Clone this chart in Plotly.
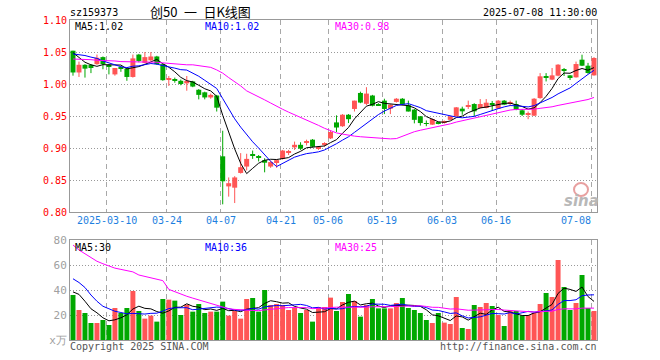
import plotly.graph_objects as go
import pandas as pd

# ---------------- data ----------------
holidays = ["2025-04-04", "2025-05-01", "2025-05-02", "2025-05-05", "2025-06-02"]
dates = [d.strftime("%Y-%m-%d") for d in pd.bdate_range("2025-02-28", "2025-07-08")
         if d.strftime("%Y-%m-%d") not in holidays]

opens = [1.052, 1.018, 1.030, 1.030, 1.031, 1.042, 1.030, 1.015, 1.026, 1.024,
         1.011, 1.046, 1.033, 1.037, 1.043, 1.031, 1.007, 1.0065, 1.005, 1.001,
         1.004, 0.991, 0.987, 0.979, 0.982, 0.887, 0.840, 0.838, 0.861, 0.871,
         0.890, 0.886, 0.881, 0.871, 0.878, 0.883, 0.8925, 0.901, 0.905, 0.908,
         0.913, 0.899, 0.905, 0.915, 0.940, 0.934, 0.952, 0.961, 0.986, 0.969,
         0.982, 0.967, 0.974, 0.9615, 0.972, 0.977, 0.967, 0.960, 0.9495, 0.938,
         0.9365, 0.9395, 0.9398, 0.944, 0.9495, 0.9615, 0.9655, 0.9687, 0.9625, 0.9625,
         0.968, 0.9615, 0.974, 0.970, 0.9687, 0.9589, 0.953, 0.9505, 0.978, 1.0098,
         1.0068, 1.013, 1.021, 1.0135, 1.0104, 1.038, 1.0286, 1.0135]
highs = [1.052, 1.035, 1.031, 1.031, 1.046, 1.043, 1.031, 1.025, 1.027, 1.025,
         1.046, 1.047, 1.050, 1.050, 1.044, 1.032, 1.0125, 1.010, 1.007, 1.0125,
         1.005, 0.992, 0.988, 0.985, 0.983, 0.927, 0.854, 0.856, 0.892, 0.891,
         0.896, 0.889, 0.884, 0.880, 0.882, 0.897, 0.897, 0.910, 0.909, 0.913,
         0.914, 0.902, 0.909, 0.927, 0.951, 0.953, 0.953, 0.974, 0.988, 0.995,
         0.983, 0.970, 0.977, 0.968, 0.978, 0.978, 0.974, 0.961, 0.950, 0.943,
         0.946, 0.941, 0.943, 0.950, 0.964, 0.9646, 0.974, 0.970, 0.9765, 0.9765,
         0.9735, 0.975, 0.975, 0.974, 0.974, 0.961, 0.957, 0.978, 1.017, 1.017,
         1.025, 1.031, 1.025, 1.014, 1.035, 1.0458, 1.033, 1.042]
lows = [1.013, 1.011, 1.010, 1.017, 1.030, 1.023, 1.015, 1.013, 1.019, 1.005,
        1.010, 1.034, 1.032, 1.036, 1.030, 1.005, 0.997, 1.002, 0.998, 0.9895,
        0.995, 0.976, 0.976, 0.977, 0.957, 0.812, 0.824, 0.814, 0.860, 0.865,
        0.883, 0.879, 0.862, 0.869, 0.869, 0.882, 0.889, 0.897, 0.897, 0.904,
        0.901, 0.897, 0.902, 0.914, 0.925, 0.933, 0.939, 0.957, 0.970, 0.967,
        0.965, 0.966, 0.953, 0.953, 0.971, 0.967, 0.957, 0.9385, 0.935, 0.934,
        0.936, 0.937, 0.938, 0.944, 0.949, 0.952, 0.961, 0.9495, 0.962, 0.962,
        0.958, 0.961, 0.967, 0.9655, 0.959, 0.950, 0.945, 0.950, 0.977, 1.004,
        1.006, 1.012, 1.0125, 1.0062, 1.010, 1.028, 1.016, 1.013]
closes = [1.018, 1.030, 1.024, 1.025, 1.041, 1.031, 1.027, 1.025, 1.024, 1.011,
          1.040, 1.036, 1.042, 1.043, 1.031, 1.006, 1.009, 1.006, 1.000, 1.005,
          0.996, 0.983, 0.979, 0.983, 0.963, 0.848, 0.845, 0.854, 0.870, 0.883,
          0.889, 0.885, 0.877, 0.878, 0.881, 0.896, 0.893, 0.905, 0.899, 0.909,
          0.902, 0.900, 0.906, 0.925, 0.932, 0.952, 0.945, 0.974, 0.971, 0.985,
          0.966, 0.966, 0.961, 0.9677, 0.977, 0.968, 0.957, 0.944, 0.939, 0.9375,
          0.9453, 0.939, 0.940, 0.9495, 0.9635, 0.9573, 0.966, 0.9573, 0.9687, 0.9708,
          0.9675, 0.974, 0.9677, 0.9705, 0.960, 0.952, 0.9536, 0.977, 1.012, 1.0094,
          1.0135, 1.0302, 1.0205, 1.0104, 1.0312, 1.0286, 1.0172, 1.0406]
volumes = [36, 24, 21.6, 13.6, 13.6, 16, 12, 25.6, 21.6, 25.6,
           39.2, 23.2, 17.1, 19.5, 14.7, 32.8, 32.3, 31.5, 20, 28.3,
           22.7, 28.8, 21.6, 22.7, 22.7, 30.7, 19.5, 23.2, 17.1, 32.8,
           33.6, 22.7, 40, 28, 28.8, 28, 24, 25.6, 21.6, 24,
           14.7, 26.4, 26.4, 33.9, 23.2, 30.4, 36.8, 31.2, 18.7, 28,
           32.8, 25.3, 25.3, 25.3, 29.6, 33.6, 25.6, 24, 21.6, 16,
           13.6, 21.6, 13.9, 12.8, 34.4, 9.6, 8.8, 28, 26.4, 29.6,
           27.2, 20, 11.2, 24, 23.2, 19.5, 20, 21.6, 28.8, 37.6,
           34.4, 64, 42.4, 24, 29.6, 52, 25.6, 23.2]

# moving-average values before a full window exists
ma5_head = [1.049, 1.041, 1.034, 1.030]
ma10_head = [1.047, 1.046, 1.0445, 1.042, 1.040, 1.036, 1.033, 1.030, 1.027]
ma30_head = [1.039, 1.039, 1.038, 1.038, 1.037, 1.037, 1.036, 1.036, 1.035, 1.035,
             1.035, 1.035, 1.034, 1.034, 1.034, 1.033, 1.032, 1.032, 1.031, 1.030,
             1.030, 1.029, 1.028, 1.026, 1.022, 1.017, 1.010, 1.004, 0.997]
vma5_head = [38.5, 36.5, 31, 25]
vma10_head = [49, 46, 42, 36, 31, 27, 25, 23, 22]
vma30_head = [76, 72, 69, 66, 63, 61, 59, 57.5, 56.5, 55.5,
              54.5, 52, 51, 50, 49, 47.5, 40.5, 38.5, 37, 35,
              33.5, 32, 30.5, 29, 27.5, 26, 25, 24.5, 24]

tick_dates = ["2025-03-10", "2025-03-24", "2025-04-07", "2025-04-21", "2025-05-06",
              "2025-05-19", "2025-06-03", "2025-06-16", "2025-07-08"]
tick_text = ["2025-03-10", "03-24", "04-07", "04-21", "05-06", "05-19", "06-03", "06-16", "07-08"]
price_ticks = [0.80, 0.85, 0.90, 0.95, 1.00, 1.05, 1.10]
vol_ticks = [0, 20, 40, 60, 80]
vol_tick_text = ["x万", "20", "40", "60", "80"]

symbol = "sz159373"
title_text = "创50\u2002一\u2002日K线图"
stamp = "2025-07-08 11:30:00"
ma_labels = ["MA5:1.02", "MA10:1.02", "MA30:0.98"]
vma_labels = ["MA5:30", "MA10:36", "MA30:25"]

# ---------------- helpers ----------------
def moving(vals, n, head):
    out = list(head)
    for i in range(n - 1, len(vals)):
        out.append(sum(vals[i - n + 1:i + 1]) / n)
    return out

N = len(closes)
idx = list(range(N))
RED, GREEN = "#ff5555", "#00a800"
up = [c >= o for o, c in zip(opens, closes)]
colors = [RED if u else GREEN for u in up]
W, H = 660, 360
MONO = "DejaVu Sans Mono"
PX_PER_PRICE = 192 / 0.30

ma5 = moving(closes, 5, ma5_head)
ma10 = moving(closes, 10, ma10_head)
ma30 = moving(closes, 30, ma30_head)
vma5 = moving(volumes, 5, vma5_head)
vma10 = moving(volumes, 10, vma10_head)
vma30 = moving(volumes, 30, vma30_head)

tick_idx = [dates.index(d) - 0.35 for d in tick_dates]

fig = go.Figure()

# wicks
for col in (RED, GREEN):
    xs, ys = [], []
    for i in idx:
        if colors[i] == col:
            xs += [i, i, None]
            ys += [lows[i], highs[i], None]
    fig.add_trace(go.Scatter(x=xs, y=ys, mode="lines", line=dict(color=col, width=1),
                             hoverinfo="skip", showlegend=False))

# bodies
body_base = [min(o, c) for o, c in zip(opens, closes)]
body_h = [max(abs(c - o), 1.0 / PX_PER_PRICE) for o, c in zip(opens, closes)]
fig.add_trace(go.Bar(x=idx, y=body_h, base=body_base, width=0.83,
                     marker=dict(color=colors, line=dict(width=0)), showlegend=False))

for vals, col in ((ma5, "#000000"), (ma10, "#0000ff"), (ma30, "#ff00ff")):
    fig.add_trace(go.Scatter(x=idx, y=vals, mode="lines", line=dict(color=col, width=1),
                             showlegend=False))

# volume
fig.add_trace(go.Bar(x=idx, y=volumes, width=0.83, xaxis="x2", yaxis="y2",
                     marker=dict(color=colors, line=dict(width=0)), showlegend=False))
for vals, col in ((vma5, "#000000"), (vma10, "#0000ff"), (vma30, "#ff00ff")):
    fig.add_trace(go.Scatter(x=idx, y=vals, mode="lines", line=dict(color=col, width=1),
                             xaxis="x2", yaxis="y2", showlegend=False))

xdom = [70 / W, 597 / W]
common_x = dict(domain=xdom, range=[-0.5, N - 0.5], showticklabels=False, ticks="",
                tickmode="array", tickvals=tick_idx, showgrid=True, gridcolor="#a8a8a8",
                gridwidth=1, griddash="5px,4px", showline=True, linecolor="#999999",
                linewidth=1, mirror=True, zeroline=False, automargin=False)

fig.update_layout(
    width=W, height=H, autosize=False, margin=dict(l=0, r=0, t=0, b=0, pad=0, autoexpand=False),
    paper_bgcolor="white", plot_bgcolor="white", barmode="overlay",
    xaxis=dict(**common_x, anchor="y"),
    xaxis2=dict(**common_x, anchor="y2", matches="x"),
    yaxis=dict(domain=[1 - 212 / H, 1 - 20 / H], range=[0.80, 1.10], tickmode="array",
               tickvals=price_ticks, ticktext=["%.2f" % v for v in price_ticks],
               tickfont=dict(family=MONO, size=10, color="#ff0000"), ticks="",
               showgrid=True, gridcolor="#999999", griddash="1px,2px", gridwidth=1,
               showline=True, linecolor="#999999", linewidth=1, mirror=True,
               zeroline=False, anchor="x", automargin=False),
    yaxis2=dict(domain=[1 - 340 / H, 1 - 240 / H], range=[0, 80], tickmode="array",
                tickvals=vol_ticks, ticktext=vol_tick_text,
                tickfont=dict(family=MONO, size=11, color="#a0a0a0"), ticks="",
                showgrid=True, gridcolor="#999999", griddash="1px,2px", gridwidth=1,
                showline=True, linecolor="#999999", linewidth=1, mirror=True,
                zeroline=False, anchor="x2", automargin=False),
    hovermode=False,
)

def ann(text, x, y, color="#000000", size=10, xanchor="left", family=MONO, **kw):
    fig.add_annotation(text=text, x=x / W, y=1 - y / H, xref="paper", yref="paper",
                       xanchor=xanchor, yanchor="middle", showarrow=False,
                       font=dict(family=family, size=size, color=color), borderpad=0, **kw)

ann(symbol, 69, 13)
ann(title_text, 200, 12, size=13, xanchor="center", family="Noto Sans CJK SC")
ann(stamp, 598, 13, xanchor="right")
for t, x, c in zip(ma_labels, (74, 204, 334), ("#000000", "#0000ff", "#ff00ff")):
    ann(t, x, 27, color=c)
for t, x, c in zip(vma_labels, (74, 204, 334), ("#000000", "#0000ff", "#ff00ff")):
    ann(t, x, 247, color=c)

# date labels under price panel
for i, (tx, t) in enumerate(zip(tick_idx, tick_text)):
    last = i == len(tick_text) - 1
    fig.add_annotation(text=t, x=tx, y=1 - 220 / H, xref="x", yref="paper",
                       xanchor="right" if last else "center", yanchor="middle",
                       showarrow=False, borderpad=0,
                       font=dict(family=MONO, size=10, color="#1e7fe0"))

ann("Copyright 2025 SINA.COM", 69, 346, color="#555555")
ann("http://finance.sina.com.cn", 598, 346, color="#555555", xanchor="right")

# sina watermark
fig.add_shape(type="circle", xref="paper", yref="paper",
              x0=574 / W, x1=588 / W, y0=1 - 196 / H, y1=1 - 183 / H,
              line=dict(color="#e8a0a0", width=2), fillcolor="rgba(0,0,0,0)")
ann("<b><i>sina</i></b>", 581, 201, color="#b8b8b8", size=15, xanchor="center",
    family="DejaVu Sans")

post = ("document.body.style.margin='0';document.body.style.padding='0';"
        "document.body.style.overflow='hidden';"
        "document.documentElement.style.overflow='hidden';"
        "Plotly.relayout('{plot_id}', {width: 660, height: 360, autosize: false});")
fig.write_html("out.html", config={"responsive": False, "displayModeBar": False},
               post_script=post)
